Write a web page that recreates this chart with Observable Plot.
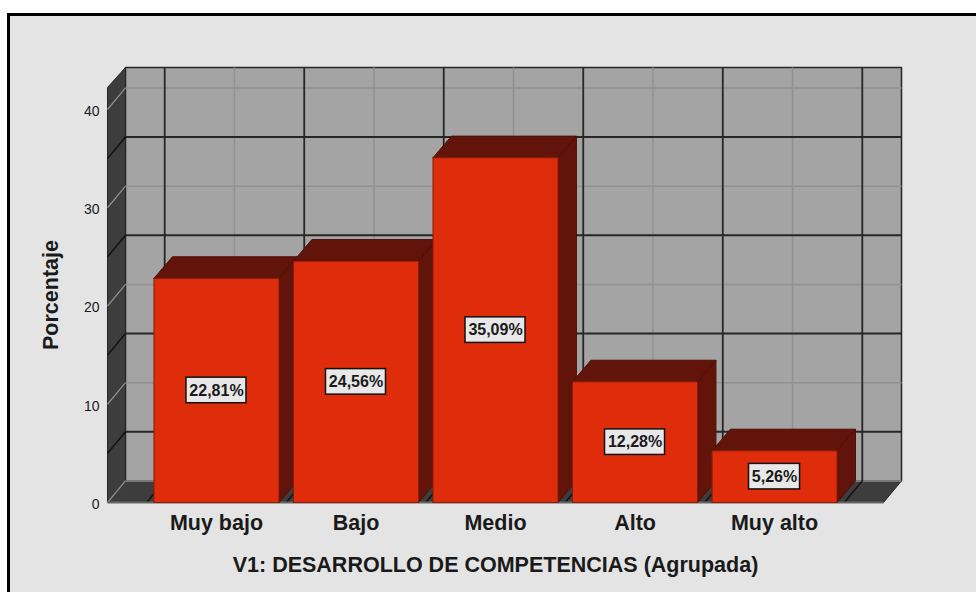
<!DOCTYPE html>
<html><head><meta charset="utf-8">
<script src="https://cdn.jsdelivr.net/npm/d3@7"></script>
<script src="https://cdn.jsdelivr.net/npm/@observablehq/plot@0.6"></script>
<style>
html,body{margin:0;padding:0;background:#fff;overflow:hidden}
#frame{position:absolute;left:7px;top:13px;width:969px;height:579px;box-sizing:border-box;background:#e4e4e4;border-left:3px solid #000;border-top:3px solid #000}
#chart{position:absolute;left:0;top:0}
svg{background:transparent!important;display:block}
</style></head><body><div id="frame"></div><div id="chart"></div>
<script>
const categories=["Muy bajo","Bajo","Medio","Alto","Muy alto"];
const values=[22.81,24.56,35.09,12.28,5.26];
const yTicks=[0,10,20,30,40];
const midTicks=[5,15,25,35];
const xTitle="V1: DESARROLLO DE COMPETENCIAS (Agrupada)";
const yTitle="Porcentaje";

const xMin=-0.781,xMax=4.781,yMax=42.24;
const dX=0.129,dY=2.2;       // depth of the box
const wallTop=yMax+2.04;
const barDX=0.132,barDY=2.2; // depth of a bar
const barHalf=0.448;
const pxX=139.5;
const C={wall:"#a4a4a4",side:"#3d3d3d",dark:"#262626",light:"#919191",front:"#df2d0b",shade:"#62140a",edge:"#8a1c08",box:"#e8e8e8",ink:"#1a1a1a"};
const FONT="Liberation Sans";

const poly=(pts,fill,stroke=C.dark,sw=1)=>Plot.line([...pts,pts[0]],{x:"0",y:"1",fill,stroke,strokeWidth:sw,curve:"linear"});
const seg=(a,b,stroke,sw)=>Plot.link([0],{x1:()=>a[0],y1:()=>a[1],x2:()=>b[0],y2:()=>b[1],stroke,strokeWidth:sw});

const vGrid=d3.range(-0.5,5,1);
const centers=categories.map((_,i)=>i);
const fmt=v=>v.toFixed(2).replace(".",",")+"%";
const boxW=v=>(fmt(v).length*9+6)/pxX;

const marks=[
  poly([[xMin+dX,dY],[xMax+dX,dY],[xMax+dX,wallTop],[xMin+dX,wallTop]],C.wall,C.dark,1.5),
  poly([[xMin,0],[xMax,0],[xMax+dX,dY],[xMin+dX,dY]],C.side,C.dark,1),
  poly([[xMin,0],[xMin+dX,dY],[xMin+dX,wallTop],[xMin,yMax]],C.side,C.dark,1),
  // back wall grid
  ...yTicks.map(v=>seg([xMin+dX,v+dY],[xMax+dX,v+dY],C.light,1.5)),
  ...centers.map(c=>seg([c+dX,dY],[c+dX,wallTop],C.light,1.5)),
  ...midTicks.map(v=>seg([xMin+dX,v+dY],[xMax+dX,v+dY],C.dark,1.8)),
  ...vGrid.map(c=>seg([c+dX,dY],[c+dX,wallTop],C.dark,1.8)),
  // left wall grid
  ...yTicks.map(v=>seg([xMin,v],[xMin+dX,v+dY],C.light,1.2)),
  ...midTicks.map(v=>seg([xMin,v],[xMin+dX,v+dY],"#111",1.5)),
  // floor grid
  ...vGrid.map(c=>seg([c,0],[c+dX,dY],"#111",1.5)),
  seg([xMin,0],[xMax,0],"#666",2),
  // bars
  ...values.flatMap((v,i)=>{
    const a=i-barHalf,b=i+barHalf;
    return [
      poly([[a,v],[b,v],[b+barDX,v+barDY],[a+barDX,v+barDY]],C.shade,"#4d0f06",1),
      poly([[b,0],[b+barDX,barDY],[b+barDX,v+barDY],[b,v]],C.shade,"#4d0f06",1),
      poly([[a,0],[b,0],[b,v],[a,v]],C.front,C.edge,1)
    ];
  }),
  // value boxes
  Plot.rect(values,{
    x1:(v,i)=>i-boxW(v)/2,
    x2:(v,i)=>i+boxW(v)/2,
    y1:v=>v/2-1.3,y2:v=>v/2+1.3,fill:C.box,stroke:"#111",strokeWidth:1.5}),
  Plot.text(values,{x:(v,i)=>i,y:v=>v/2,text:fmt,fontSize:16,fontWeight:"bold",fill:C.ink,fontFamily:FONT}),
  // axes
  Plot.axisY({ticks:yTicks,tickSize:0,tickPadding:8,fontSize:14,label:null,fontFamily:FONT,fill:C.ink,dy:2}),
  Plot.axisX({ticks:centers,tickFormat:i=>categories[i],tickSize:0,tickPadding:12,fontSize:21.5,fontWeight:"bold",label:null,fontFamily:FONT,fill:C.ink}),
  Plot.text([yTitle],{text:d=>d,frameAnchor:"left",textAnchor:"middle",dx:-56,rotate:-90,fontSize:21.5,fontWeight:"bold",fill:C.ink,fontFamily:FONT}),
  Plot.text([xTitle],{text:d=>d,frameAnchor:"bottom",dy:69,fontSize:21.5,fontWeight:"bold",fill:C.ink,fontFamily:FONT})
];

const chart=Plot.plot({
  width:976,height:592,
  marginLeft:107,marginRight:93,marginTop:87,marginBottom:90,
  x:{domain:[xMin,xMax],axis:null},
  y:{domain:[0,yMax],axis:null},
  style:{background:"transparent",overflow:"visible",fontFamily:FONT},
  marks
});
document.getElementById("chart").append(chart);
</script></body></html>
